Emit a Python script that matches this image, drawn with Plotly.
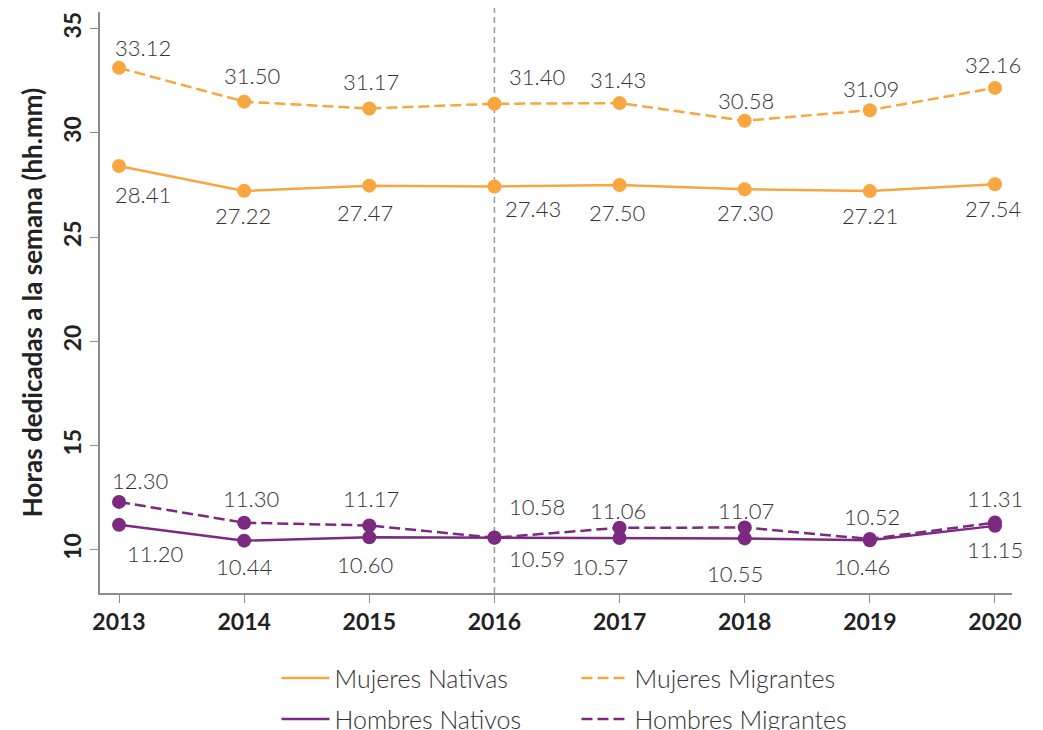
import plotly.graph_objects as go

years = [2013, 2014, 2015, 2016, 2017, 2018, 2019, 2020]
mujeres_nativas = [28.41, 27.22, 27.47, 27.43, 27.50, 27.30, 27.21, 27.54]
mujeres_migrantes = [33.12, 31.50, 31.17, 31.40, 31.43, 30.58, 31.09, 32.16]
hombres_nativos = [11.20, 10.44, 10.60, 10.59, 10.57, 10.55, 10.46, 11.15]
hombres_migrantes = [12.30, 11.30, 11.17, 10.58, 11.06, 11.07, 10.52, 11.31]
y_ticks = [10, 15, 20, 25, 30, 35]

ORANGE = "#F8A640"
PURPLE = "#7B2A7F"
FONT = "Lato"
TXT = "#333333"
DASH = "11px,5px"

# label offsets in px (dx right, dy down) - styling only
off_mm = [(24, -20), (8, -26), (2, -27), (43, -27), (-2, -24), (1, -20), (1, -22), (-2, -23)]
off_mn = [(24, 28), (-1, 25), (-4, 27), (39, 22), (-3, 27), (0, 23), (0, 24), (-2, 24)]
off_hm = [(21, -21), (7, -24), (2, -27), (43, -31), (-2, -17), (1, -17), (2, -23), (0, -24)]
off_hn = [(36, 29), (0, 26), (-4, 27), (43, 21), (-20, 29), (-10, 35), (-8, 26), (0, 24)]

series = [
    ("Mujeres Nativas", mujeres_nativas, ORANGE, "solid", "legend", off_mn),
    ("Mujeres Migrantes", mujeres_migrantes, ORANGE, DASH, "legend", off_mm),
    ("Hombres Nativos", hombres_nativos, PURPLE, "solid", "legend2", off_hn),
    ("Hombres Migrantes", hombres_migrantes, PURPLE, DASH, "legend2", off_hm),
]

fig = go.Figure()
annotations = []
for name, vals, col, dash, leg, offs in series:
    # line (shown in legend)
    fig.add_trace(go.Scatter(
        x=years, y=vals, name=name, mode="lines",
        line=dict(color=col, width=2.5, dash=dash),
        legend=leg, legendgroup=name,
    ))
    # markers (not in legend)
    fig.add_trace(go.Scatter(
        x=years, y=vals, name=name, mode="markers",
        marker=dict(color=col, size=14),
        showlegend=False, legendgroup=name,
    ))
    for xv, yv, (dx, dy) in zip(years, vals, offs):
        annotations.append(dict(
            x=xv, y=yv, xref="x", yref="y", text=f"{yv:.2f}", showarrow=False,
            xshift=dx, yshift=-dy,
            font=dict(family=FONT, size=22, color=TXT, weight=300),
        ))

fig.add_shape(type="line", x0=2016, x1=2016, xref="x", y0=0, y1=1.007, yref="paper",
              line=dict(color="#999999", width=1.5, dash="6px,4px"), layer="below")

legend_common = dict(orientation="h", x=0.1935, xanchor="left", yanchor="middle",
                     entrywidth=237, itemwidth=48,
                     font=dict(family=FONT, size=25, color=TXT, weight=300),
                     bgcolor="rgba(0,0,0,0)")

fig.update_layout(
    width=1035, height=722,
    paper_bgcolor="white", plot_bgcolor="white",
    margin=dict(l=92, r=31, t=4, b=137, autoexpand=False),
    font=dict(family=FONT, color=TXT),
    annotations=annotations,
    legend=dict(y=-0.1468, **legend_common),
    legend2=dict(y=-0.2171, **legend_common),
)
fig.update_xaxes(
    range=[2012.848, 2020.136], tickmode="array", tickvals=years,
    ticktext=[str(y) for y in years],
    showline=True, linecolor="#8c8c8c", linewidth=1.5, ticks="outside", ticklen=8,
    tickcolor="#8c8c8c", tickwidth=1.2, showgrid=False, zeroline=False,
    tickfont=dict(family=FONT, size=23, color="#222222", weight="bold"),
)
fig.update_yaxes(
    range=[7.93, 35.8], tickmode="array", tickvals=y_ticks, tickangle=-90,
    showline=True, linecolor="#8c8c8c", linewidth=1.5, ticks="outside", ticklen=8,
    tickcolor="#8c8c8c", tickwidth=1.2, showgrid=False, zeroline=False,
    tickfont=dict(family=FONT, size=23, color="#222222", weight="bold"),
    title=dict(text="Horas dedicadas a la semana (hh.mm)", standoff=8,
               font=dict(family=FONT, size=26, color="#222222", weight="bold")),
)

fig.write_html("out.html")
